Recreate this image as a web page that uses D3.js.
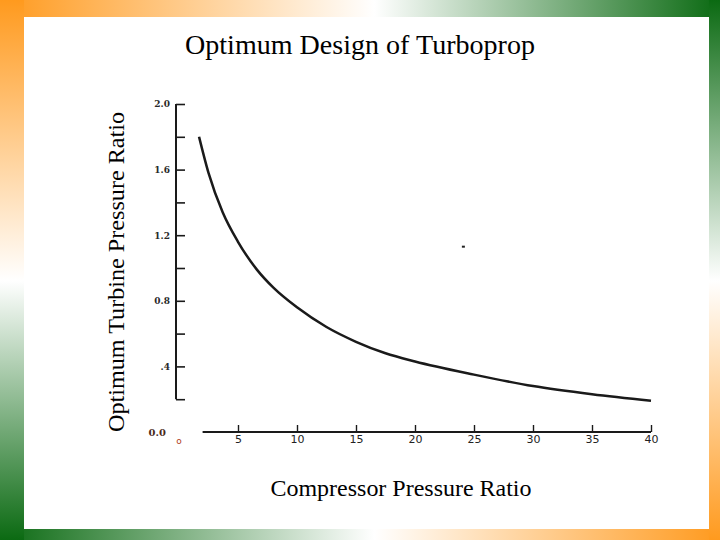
<!DOCTYPE html>
<html><head><meta charset="utf-8">
<script src="https://cdn.jsdelivr.net/npm/d3@7"></script>
<style>body{margin:0;background:#fff}svg{display:block}</style>
</head><body>
<script>
// ---- data ----
const compressorRatio = [1.7, 2.5, 3.7, 5, 6.6, 8, 10, 12.5, 15, 17.5, 20, 25, 30, 35, 40];
const turbineRatio    = [1.80, 1.58, 1.34, 1.16, 0.99, 0.88, 0.76, 0.64, 0.55, 0.48, 0.43, 0.35, 0.28, 0.23, 0.19];
const xTicks = [5, 10, 15, 20, 25, 30, 35, 40];
const yTicks = [0.2, 0.4, 0.6, 0.8, 1.0, 1.2, 1.4, 1.6, 1.8, 2.0];
const yTickLabels = {"2.0": "2.0", "1.6": "1.6", "1.2": "1.2", "0.8": "0.8", "0.4": ".4"};
const strayX = [24.1], strayY = [1.13];
const title = "Optimum Design of Turboprop";
const xLabel = "Compressor Pressure Ratio";
const yLabel = "Optimum Turbine Pressure Ratio";

const W = 720, H = 540;
const svg = d3.select("body").append("svg").attr("width", W).attr("height", H);
const defs = svg.append("defs");
const orange = "#ff9a1e", green = "#0b6a12";
function grad(id, x2, y2, c0, c2) {
  const g = defs.append("linearGradient").attr("id", id)
    .attr("x1", 0).attr("y1", 0).attr("x2", x2).attr("y2", y2);
  g.append("stop").attr("offset", "0%").attr("stop-color", c0);
  g.append("stop").attr("offset", "52%").attr("stop-color", "#ffffff");
  g.append("stop").attr("offset", "100%").attr("stop-color", c2);
}
grad("gTop", 1, 0, orange, green);
grad("gBot", 1, 0, green, orange);
grad("gLeft", 0, 1, orange, green);
grad("gRight", 0, 1, green, orange);

svg.append("rect").attr("x", 0).attr("y", 0).attr("width", W).attr("height", H).attr("fill", "#fff");
svg.append("rect").attr("x", 0).attr("y", 0).attr("width", W).attr("height", 17).attr("fill", "url(#gTop)");
svg.append("rect").attr("x", 0).attr("y", 529).attr("width", W).attr("height", 11).attr("fill", "url(#gBot)");
svg.append("rect").attr("x", 0).attr("y", 0).attr("width", 24).attr("height", H).attr("fill", "url(#gLeft)");
svg.append("rect").attr("x", 709).attr("y", 0).attr("width", 11).attr("height", H).attr("fill", "url(#gRight)");

// ---- scales ----
const x = d3.scaleLinear().domain([0, 40]).range([179, 651]);
const y = d3.scaleLinear().domain([0, 2]).range([432, 104]);
const ink = "#1a1a1a";

// y axis
const yAxisX = 176;
const yAx = svg.append("g").attr("transform", `translate(${yAxisX},0)`)
  .call(d3.axisLeft(y).tickValues(yTicks).tickSize(-9).tickPadding(6)
    .tickFormat(d => yTickLabels[d.toFixed(1)] || ""));
yAx.select(".domain").remove();
yAx.selectAll(".tick line").attr("stroke", ink).attr("stroke-width", 1.6);
yAx.selectAll(".tick text").attr("font-family", "'DejaVu Serif', serif")
  .attr("font-size", 9).attr("font-weight", "bold").attr("fill", "#2a2a2a");
svg.append("line").attr("x1", yAxisX).attr("x2", yAxisX)
  .attr("y1", y(2.0)).attr("y2", y(0.2)).attr("stroke", ink).attr("stroke-width", 2);
svg.append("text").attr("x", yAxisX - 10).attr("y", y(0) + 4).attr("text-anchor", "end")
  .attr("font-family", "'DejaVu Serif', serif").attr("font-size", 10).attr("font-weight", "bold")
  .attr("fill", "#4a2a1a").text("0.0");
svg.append("text").attr("x", x(0)).attr("y", y(0) + 12).attr("text-anchor", "middle")
  .attr("font-family", "'DejaVu Sans', sans-serif").attr("font-size", 9)
  .attr("fill", "#b04020").text("o");

// x axis
const xAx = svg.append("g").attr("transform", `translate(0,${y(0)})`)
  .call(d3.axisBottom(x).tickValues(xTicks).tickSize(-7).tickPadding(3).tickFormat(d3.format("d")));
xAx.select(".domain").remove();
xAx.selectAll(".tick line").attr("stroke", ink).attr("stroke-width", 1.4);
xAx.selectAll(".tick text").attr("font-family", "'DejaVu Sans', sans-serif")
  .attr("font-size", 11).attr("fill", "#222");
svg.append("line").attr("x1", x(2)).attr("x2", x(40))
  .attr("y1", y(0)).attr("y2", y(0)).attr("stroke", ink).attr("stroke-width", 2);

// curve
const pts = compressorRatio.map((c, i) => [c, turbineRatio[i]]);
svg.append("path").datum(pts)
  .attr("d", d3.line().x(d => x(d[0])).y(d => y(d[1])).curve(d3.curveMonotoneX))
  .attr("fill", "none").attr("stroke", ink).attr("stroke-width", 2.5);

// stray mark
svg.selectAll("rect.stray").data(strayX.map((v, i) => [v, strayY[i]])).enter()
  .append("rect").attr("class", "stray")
  .attr("x", d => x(d[0]) - 1.5).attr("y", d => y(d[1]) - 1).attr("width", 3).attr("height", 2).attr("fill", "#222");

// texts
const serif = "'Liberation Serif', 'Times New Roman', serif";
svg.append("text").attr("x", 360).attr("y", 54).attr("text-anchor", "middle")
  .attr("font-family", serif).attr("font-size", 28)
  .attr("textLength", 350).attr("lengthAdjust", "spacingAndGlyphs")
  .attr("fill", "#000").text(title);
svg.append("text").attr("x", 401).attr("y", 496).attr("text-anchor", "middle")
  .attr("font-family", serif).attr("font-size", 24)
  .attr("textLength", 261).attr("lengthAdjust", "spacingAndGlyphs")
  .attr("fill", "#000").text(xLabel);
svg.append("text").attr("transform", "translate(124,272) rotate(-90)").attr("text-anchor", "middle")
  .attr("font-family", serif).attr("font-size", 24)
  .attr("textLength", 320).attr("lengthAdjust", "spacingAndGlyphs")
  .attr("fill", "#000").text(yLabel);
</script>
</body></html>
